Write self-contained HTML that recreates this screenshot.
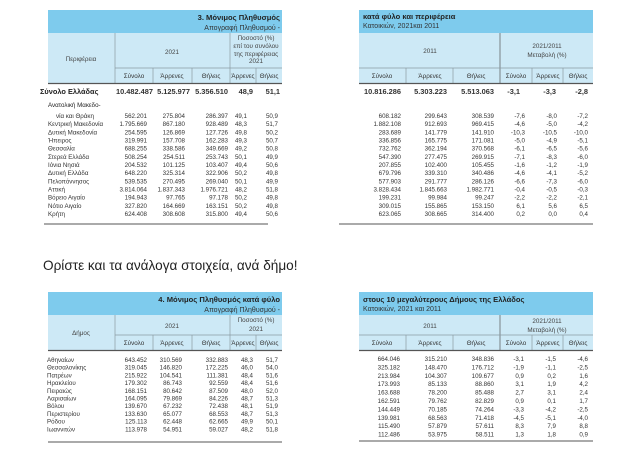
<!DOCTYPE html>
<html><head><meta charset="utf-8"><style>
html,body{margin:0;padding:0;background:#fff;width:627px;height:451px;overflow:hidden}
svg{display:block}
text{font-family:"Liberation Sans","DejaVu Sans",sans-serif;fill:#333}
.d{font-size:6.2px;fill:#222}
.h{font-size:6.3px;fill:#444}
.b{font-size:7.4px;font-weight:bold;fill:#222}
.t{font-size:7.6px;font-weight:bold;fill:#222}
.s{font-size:7px;fill:#333}
</style></head><body>
<svg width="627" height="451" viewBox="0 0 627 451" xmlns="http://www.w3.org/2000/svg">
<!-- TOP LEFT -->
<rect x="48" y="10" width="234" height="23" fill="#7ecbed"/>
<rect x="48" y="33" width="234" height="50" fill="#cde9f6"/>
<text class="t" x="280" y="20" text-anchor="end">3. Μόνιμος Πληθυσμός</text>
<text class="s" x="280" y="30" text-anchor="end">Απογραφή Πληθυσμού -</text>
<g stroke="#8a9aa3" stroke-width="0.7">
<line x1="115" y1="33" x2="115" y2="83"/><line x1="230" y1="33" x2="230" y2="83"/>
<line x1="115" y1="68" x2="282" y2="68"/>
<line x1="153" y1="68" x2="153" y2="83"/><line x1="192" y1="68" x2="192" y2="83"/><line x1="256" y1="68" x2="256" y2="83"/>
</g>
<line x1="48" y1="83.5" x2="282" y2="83.5" stroke="#555" stroke-width="1.2"/>
<text class="h" x="81" y="61" text-anchor="middle">Περιφέρεια</text>
<text class="h" x="172" y="54" text-anchor="middle">2021</text>
<text class="h" x="256" y="40" text-anchor="middle">Ποσοστό (%)</text>
<text class="h" x="256" y="48" text-anchor="middle">επί του συνόλου</text>
<text class="h" x="256" y="56" text-anchor="middle">της περιφέρειας</text>
<text class="h" x="256" y="63" text-anchor="middle">2021</text>
<g class="h" text-anchor="middle"><text x="134" y="78">Σύνολο</text><text x="172" y="78">Άρρενες</text><text x="211" y="78">Θήλεις</text><text x="243" y="78">Άρρενες</text><text x="269" y="78">Θήλεις</text></g>
<text class="b" x="40" y="94">Σύνολο Ελλάδας</text>
<g class="b" text-anchor="end"><text x="153" y="94">10.482.487</text><text x="190" y="94">5.125.977</text><text x="228" y="94">5.356.510</text><text x="253" y="94">48,9</text><text x="280" y="94">51,1</text></g>
<text class="d" x="48" y="107">Ανατολική Μακεδο-</text>
<g class="d">
<text x="56" y="118">νία και Θράκη</text>
<text x="48" y="126.2">Κεντρική Μακεδονία</text>
<text x="48" y="134.3">Δυτική Μακεδονία</text>
<text x="48" y="142.5">Ήπειρος</text>
<text x="48" y="150.7">Θεσσαλία</text>
<text x="48" y="158.8">Στερεά Ελλάδα</text>
<text x="48" y="167">Ιόνια Νησιά</text>
<text x="48" y="175.2">Δυτική Ελλάδα</text>
<text x="48" y="183.3">Πελοπόννησος</text>
<text x="48" y="191.5">Αττική</text>
<text x="48" y="199.7">Βόρειο Αιγαίο</text>
<text x="48" y="207.8">Νότιο Αιγαίο</text>
<text x="48" y="216">Κρήτη</text>
</g>
<g class="d" text-anchor="end">
<g transform="translate(147,0)"><text y="118">562.201</text><text y="126.2">1.795.669</text><text y="134.3">254.595</text><text y="142.5">319.991</text><text y="150.7">688.255</text><text y="158.8">508.254</text><text y="167">204.532</text><text y="175.2">648.220</text><text y="183.3">539.535</text><text y="191.5">3.814.064</text><text y="199.7">194.943</text><text y="207.8">327.820</text><text y="216">624.408</text></g>
<g transform="translate(185,0)"><text y="118">275.804</text><text y="126.2">867.180</text><text y="134.3">126.869</text><text y="142.5">157.708</text><text y="150.7">338.586</text><text y="158.8">254.511</text><text y="167">101.125</text><text y="175.2">325.314</text><text y="183.3">270.495</text><text y="191.5">1.837.343</text><text y="199.7">97.765</text><text y="207.8">164.669</text><text y="216">308.608</text></g>
<g transform="translate(228,0)"><text y="118">286.397</text><text y="126.2">928.489</text><text y="134.3">127.726</text><text y="142.5">162.283</text><text y="150.7">349.669</text><text y="158.8">253.743</text><text y="167">103.407</text><text y="175.2">322.906</text><text y="183.3">269.040</text><text y="191.5">1.976.721</text><text y="199.7">97.178</text><text y="207.8">163.151</text><text y="216">315.800</text></g>
<g transform="translate(247,0)"><text y="118">49,1</text><text y="126.2">48,3</text><text y="134.3">49,8</text><text y="142.5">49,3</text><text y="150.7">49,2</text><text y="158.8">50,1</text><text y="167">49,4</text><text y="175.2">50,2</text><text y="183.3">50,1</text><text y="191.5">48,2</text><text y="199.7">50,2</text><text y="207.8">50,2</text><text y="216">49,4</text></g>
<g transform="translate(278,0)"><text y="118">50,9</text><text y="126.2">51,7</text><text y="134.3">50,2</text><text y="142.5">50,7</text><text y="150.7">50,8</text><text y="158.8">49,9</text><text y="167">50,6</text><text y="175.2">49,8</text><text y="183.3">49,9</text><text y="191.5">51,8</text><text y="199.7">49,8</text><text y="207.8">49,8</text><text y="216">50,6</text></g>
</g>
<line x1="44" y1="224" x2="268" y2="224" stroke="#777" stroke-width="1.3"/>

<!-- TOP RIGHT -->
<rect x="359" y="10" width="234" height="23" fill="#7ecbed"/>
<rect x="359" y="33" width="234" height="50" fill="#cde9f6"/>
<text class="t" x="363" y="19">κατά φύλο και περιφέρεια</text>
<text class="s" x="363" y="28">Κατοικιών, 2021και 2011</text>
<g stroke="#8a9aa3" stroke-width="0.7">
<line x1="500" y1="33" x2="500" y2="83" stroke="#555"/>
<line x1="359" y1="68" x2="593" y2="68"/>
<line x1="406" y1="68" x2="406" y2="83"/><line x1="453" y1="68" x2="453" y2="83"/><line x1="532" y1="68" x2="532" y2="83"/><line x1="563" y1="68" x2="563" y2="83"/>
</g>
<line x1="359" y1="83.5" x2="593" y2="83.5" stroke="#555" stroke-width="1.2"/>
<text class="h" x="430" y="53" text-anchor="middle">2011</text>
<text class="h" x="547" y="48" text-anchor="middle">2021/2011</text>
<text class="h" x="547" y="57" text-anchor="middle">Μεταβολή (%)</text>
<g class="h" text-anchor="middle"><text x="382" y="78">Σύνολο</text><text x="430" y="78">Άρρενες</text><text x="476" y="78">Θήλεις</text><text x="516" y="78">Σύνολο</text><text x="548" y="78">Άρρενες</text><text x="578" y="78">Θήλεις</text></g>
<g class="b" text-anchor="end"><text x="401" y="94">10.816.286</text><text x="447" y="94">5.303.223</text><text x="494" y="94">5.513.063</text><text x="520" y="94">-3,1</text><text x="556" y="94">-3,3</text><text x="588" y="94">-2,8</text></g>
<g class="d" text-anchor="end">
<g transform="translate(401,0)"><text y="118">608.182</text><text y="126.2">1.882.108</text><text y="134.3">283.689</text><text y="142.5">336.856</text><text y="150.7">732.762</text><text y="158.8">547.390</text><text y="167">207.855</text><text y="175.2">679.796</text><text y="183.3">577.903</text><text y="191.5">3.828.434</text><text y="199.7">199.231</text><text y="207.8">309.015</text><text y="216">623.065</text></g>
<g transform="translate(447,0)"><text y="118">299.643</text><text y="126.2">912.693</text><text y="134.3">141.779</text><text y="142.5">165.775</text><text y="150.7">362.194</text><text y="158.8">277.475</text><text y="167">102.400</text><text y="175.2">339.310</text><text y="183.3">291.777</text><text y="191.5">1.845.663</text><text y="199.7">99.984</text><text y="207.8">155.865</text><text y="216">308.665</text></g>
<g transform="translate(494,0)"><text y="118">308.539</text><text y="126.2">969.415</text><text y="134.3">141.910</text><text y="142.5">171.081</text><text y="150.7">370.568</text><text y="158.8">269.915</text><text y="167">105.455</text><text y="175.2">340.486</text><text y="183.3">286.126</text><text y="191.5">1.982.771</text><text y="199.7">99.247</text><text y="207.8">153.150</text><text y="216">314.400</text></g>
<g transform="translate(525,0)"><text y="118">-7,6</text><text y="126.2">-4,6</text><text y="134.3">-10,3</text><text y="142.5">-5,0</text><text y="150.7">-6,1</text><text y="158.8">-7,1</text><text y="167">-1,6</text><text y="175.2">-4,6</text><text y="183.3">-6,6</text><text y="191.5">-0,4</text><text y="199.7">-2,2</text><text y="207.8">6,1</text><text y="216">0,2</text></g>
<g transform="translate(557,0)"><text y="118">-8,0</text><text y="126.2">-5,0</text><text y="134.3">-10,5</text><text y="142.5">-4,9</text><text y="150.7">-6,5</text><text y="158.8">-8,3</text><text y="167">-1,2</text><text y="175.2">-4,1</text><text y="183.3">-7,3</text><text y="191.5">-0,5</text><text y="199.7">-2,2</text><text y="207.8">5,6</text><text y="216">0,0</text></g>
<g transform="translate(588,0)"><text y="118">-7,2</text><text y="126.2">-4,2</text><text y="134.3">-10,0</text><text y="142.5">-5,1</text><text y="150.7">-5,6</text><text y="158.8">-6,0</text><text y="167">-1,9</text><text y="175.2">-5,2</text><text y="183.3">-6,0</text><text y="191.5">-0,3</text><text y="199.7">-2,1</text><text y="207.8">6,5</text><text y="216">0,4</text></g>
</g>
<line x1="339" y1="224" x2="593" y2="224" stroke="#777" stroke-width="1.3"/>

<text x="43" y="270" style="font-size:13.6px;fill:#222">Ορίστε και τα ανάλογα στοιχεία, ανά δήμο!</text>

<!-- BOTTOM LEFT -->
<rect x="48" y="292" width="234" height="23" fill="#7ecbed"/>
<rect x="48" y="315" width="234" height="35" fill="#cde9f6"/>
<text class="t" x="280" y="302" text-anchor="end">4. Μόνιμος Πληθυσμός κατά φύλο</text>
<text class="s" x="280" y="312" text-anchor="end">Απογραφή Πληθυσμού -</text>
<g stroke="#8a9aa3" stroke-width="0.7">
<line x1="115" y1="315" x2="115" y2="350"/><line x1="230" y1="315" x2="230" y2="350"/>
<line x1="115" y1="335" x2="282" y2="335"/>
<line x1="153" y1="335" x2="153" y2="350"/><line x1="192" y1="335" x2="192" y2="350"/><line x1="256" y1="335" x2="256" y2="350"/>
</g>
<line x1="48" y1="350.5" x2="282" y2="350.5" stroke="#555" stroke-width="1.2"/>
<text class="h" x="81" y="335" text-anchor="middle">Δήμος</text>
<text class="h" x="172" y="328" text-anchor="middle">2021</text>
<text class="h" x="256" y="322" text-anchor="middle">Ποσοστό (%)</text>
<text class="h" x="256" y="331" text-anchor="middle">2021</text>
<g class="h" text-anchor="middle"><text x="134" y="345">Σύνολο</text><text x="172" y="345">Άρρενες</text><text x="211" y="345">Θήλεις</text><text x="243" y="345">Άρρενες</text><text x="269" y="345">Θήλεις</text></g>
<g class="d">
<text x="47" y="362">Αθηναίων</text><text x="47" y="369.7">Θεσσαλονίκης</text><text x="47" y="377.4">Πατρέων</text><text x="47" y="385.1">Ηρακλείου</text><text x="47" y="392.8">Πειραιώς</text><text x="47" y="400.5">Λαρισαίων</text><text x="47" y="408.2">Βόλου</text><text x="47" y="415.9">Περιστερίου</text><text x="47" y="423.6">Ρόδου</text><text x="47" y="431.3">Ιωαννιτών</text>
</g>
<g class="d" text-anchor="end">
<g transform="translate(147,0)"><text y="362">643.452</text><text y="369.7">319.045</text><text y="377.4">215.922</text><text y="385.1">179.302</text><text y="392.8">168.151</text><text y="400.5">164.095</text><text y="408.2">139.670</text><text y="415.9">133.630</text><text y="423.6">125.113</text><text y="431.3">113.978</text></g>
<g transform="translate(182,0)"><text y="362">310.569</text><text y="369.7">146.820</text><text y="377.4">104.541</text><text y="385.1">86.743</text><text y="392.8">80.642</text><text y="400.5">79.869</text><text y="408.2">67.232</text><text y="415.9">65.077</text><text y="423.6">62.448</text><text y="431.3">54.951</text></g>
<g transform="translate(228,0)"><text y="362">332.883</text><text y="369.7">172.225</text><text y="377.4">111.381</text><text y="385.1">92.559</text><text y="392.8">87.509</text><text y="400.5">84.226</text><text y="408.2">72.438</text><text y="415.9">68.553</text><text y="423.6">62.665</text><text y="431.3">59.027</text></g>
<g transform="translate(253,0)"><text y="362">48,3</text><text y="369.7">46,0</text><text y="377.4">48,4</text><text y="385.1">48,4</text><text y="392.8">48,0</text><text y="400.5">48,7</text><text y="408.2">48,1</text><text y="415.9">48,7</text><text y="423.6">49,9</text><text y="431.3">48,2</text></g>
<g transform="translate(278,0)"><text y="362">51,7</text><text y="369.7">54,0</text><text y="377.4">51,6</text><text y="385.1">51,6</text><text y="392.8">52,0</text><text y="400.5">51,3</text><text y="408.2">51,9</text><text y="415.9">51,3</text><text y="423.6">50,1</text><text y="431.3">51,8</text></g>
</g>
<line x1="48" y1="442" x2="282" y2="442" stroke="#777" stroke-width="1.3"/>

<!-- BOTTOM RIGHT -->
<rect x="359" y="292" width="234" height="23" fill="#7ecbed"/>
<rect x="359" y="315" width="234" height="35" fill="#cde9f6"/>
<text class="t" x="363" y="302">στους 10 μεγαλύτερους Δήμους της Ελλάδος</text>
<text class="s" x="363" y="311">Κατοικιών, 2021 και 2011</text>
<g stroke="#8a9aa3" stroke-width="0.7">
<line x1="500" y1="315" x2="500" y2="350" stroke="#555"/>
<line x1="359" y1="335" x2="593" y2="335"/>
<line x1="406" y1="335" x2="406" y2="350"/><line x1="453" y1="335" x2="453" y2="350"/><line x1="532" y1="335" x2="532" y2="350"/><line x1="563" y1="335" x2="563" y2="350"/>
</g>
<line x1="359" y1="350.5" x2="593" y2="350.5" stroke="#555" stroke-width="1.2"/>
<text class="h" x="430" y="328" text-anchor="middle">2011</text>
<text class="h" x="547" y="323" text-anchor="middle">2021/2011</text>
<text class="h" x="547" y="332" text-anchor="middle">Μεταβολή (%)</text>
<g class="h" text-anchor="middle"><text x="382" y="345">Σύνολο</text><text x="430" y="345">Άρρενες</text><text x="476" y="345">Θήλεις</text><text x="516" y="345">Σύνολο</text><text x="548" y="345">Άρρενες</text><text x="578" y="345">Θήλεις</text></g>
<g class="d" text-anchor="end">
<g transform="translate(400,0)"><text y="361">664.046</text><text y="369.4">325.182</text><text y="377.8">213.984</text><text y="386.2">173.993</text><text y="394.6">163.688</text><text y="403">162.591</text><text y="411.4">144.449</text><text y="419.8">139.981</text><text y="428.2">115.490</text><text y="436.6">112.486</text></g>
<g transform="translate(447,0)"><text y="361">315.210</text><text y="369.4">148.470</text><text y="377.8">104.307</text><text y="386.2">85.133</text><text y="394.6">78.200</text><text y="403">79.762</text><text y="411.4">70.185</text><text y="419.8">68.563</text><text y="428.2">57.879</text><text y="436.6">53.975</text></g>
<g transform="translate(494,0)"><text y="361">348.836</text><text y="369.4">176.712</text><text y="377.8">109.677</text><text y="386.2">88.860</text><text y="394.6">85.488</text><text y="403">82.829</text><text y="411.4">74.264</text><text y="419.8">71.418</text><text y="428.2">57.611</text><text y="436.6">58.511</text></g>
<g transform="translate(524,0)"><text y="361">-3,1</text><text y="369.4">-1,9</text><text y="377.8">0,9</text><text y="386.2">3,1</text><text y="394.6">2,7</text><text y="403">0,9</text><text y="411.4">-3,3</text><text y="419.8">-4,5</text><text y="428.2">8,3</text><text y="436.6">1,3</text></g>
<g transform="translate(556,0)"><text y="361">-1,5</text><text y="369.4">-1,1</text><text y="377.8">0,2</text><text y="386.2">1,9</text><text y="394.6">3,1</text><text y="403">0,1</text><text y="411.4">-4,2</text><text y="419.8">-5,1</text><text y="428.2">7,9</text><text y="436.6">1,8</text></g>
<g transform="translate(588,0)"><text y="361">-4,6</text><text y="369.4">-2,5</text><text y="377.8">1,6</text><text y="386.2">4,2</text><text y="394.6">2,4</text><text y="403">1,7</text><text y="411.4">-2,5</text><text y="419.8">-4,0</text><text y="428.2">8,8</text><text y="436.6">0,9</text></g>
</g>
<line x1="359" y1="441" x2="593" y2="441" stroke="#777" stroke-width="1.3"/>
</svg>
</body></html>
